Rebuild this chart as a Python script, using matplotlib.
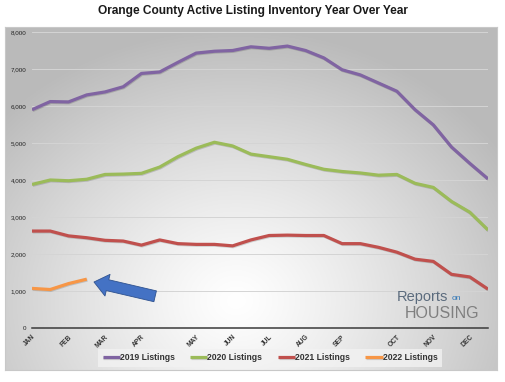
import numpy as np
import matplotlib.pyplot as plt
import matplotlib.patheffects as pe

plt.rcParams['font.family'] = ['Liberation Sans', 'DejaVu Sans']

# ---------- data (biweekly readings) ----------
months = ["JAN", "FEB", "MAR", "APR", "MAY", "JUN", "JUL", "AUG", "SEP", "OCT", "NOV", "DEC"]
month_pos = [0, 2, 4, 6, 9, 11, 13, 15, 17, 20, 22, 24]

y2019 = [5900, 6120, 6110, 6300, 6380, 6520, 6880, 6920, 7180, 7430, 7480, 7500, 7600,
         7560, 7620, 7500, 7300, 6980, 6840, 6620, 6400, 5900, 5490, 4890, 4450, 4030]
y2020 = [3880, 4000, 3980, 4020, 4150, 4160, 4180, 4350, 4630, 4860, 5020, 4920, 4700,
         4630, 4560, 4420, 4290, 4230, 4190, 4130, 4150, 3910, 3800, 3420, 3130, 2650]
y2021 = [2620, 2620, 2490, 2440, 2370, 2350, 2240, 2380, 2280, 2260, 2260, 2220, 2380,
         2500, 2510, 2500, 2500, 2280, 2280, 2180, 2050, 1860, 1800, 1450, 1380, 1050]
y2022 = [1070, 1040, 1200, 1320]

series = [("2019 Listings", y2019, "#8064A2"),
          ("2020 Listings", y2020, "#9BBB59"),
          ("2021 Listings", y2021, "#C0504D"),
          ("2022 Listings", y2022, "#F79646")]

W, H = 505, 382
fig = plt.figure(figsize=(W / 100, H / 100), dpi=100)
fig.patch.set_facecolor("white")

# ---------- gray gradient panel ----------
bg = fig.add_axes([5 / W, 1 - 370 / H, 492 / W, 343 / H])
gx, gy = np.meshgrid(np.linspace(0, 1, 300), np.linspace(0, 1, 240))
r = np.sqrt(((gx - 0.47) / 0.65) ** 2 + ((gy - 0.80) / 0.80) ** 2)
shade = 1.0 - 0.27 * np.clip(r, 0, 1) ** 1.2
bg.imshow(np.dstack([shade] * 3), aspect="auto", extent=[0, 1, 0, 1], origin="upper")
bg.set_xticks([]); bg.set_yticks([])
for s in bg.spines.values():
    s.set_color("#c8c8c8")
bg.patch.set_alpha(0)

fig.text(253 / W, 1 - 11 / H, "Orange County Active Listing Inventory Year Over Year",
         ha="center", va="center", fontsize=8.6, fontweight="bold", color="#1a1a1a")

# ---------- main axes ----------
ax = fig.add_axes([32 / W, 1 - 328 / H, 456 / W, 296 / H])
ax.patch.set_alpha(0)
shadow = [pe.SimpleLineShadow(offset=(0.5, -0.6), alpha=0.15), pe.Normal()]
for label, vals, col in series:
    ax.plot(range(len(vals)), vals, color=col, lw=2.3, label=label,
            solid_capstyle="butt", path_effects=shadow)

ax.set_xlim(0, 25)
ax.set_ylim(0, 8000)
ax.set_yticks(range(0, 8001, 1000))
ax.set_yticklabels([f"{v:,}" for v in range(0, 8001, 1000)], fontsize=4.5, color="#222222")
ax.set_xticks(month_pos)
ax.set_xticklabels(months, rotation=45, ha="right", rotation_mode="anchor",
                   fontsize=4.8, fontweight="bold", color="#333333")
ax.tick_params(length=0, pad=4)
ax.grid(axis="y", color="#d4d4d4", lw=0.7)
ax.set_axisbelow(True)
for side in ["top", "right", "left"]:
    ax.spines[side].set_visible(False)
ax.spines["bottom"].set_color("#3a3a3a")
ax.spines["bottom"].set_linewidth(1.1)

# ---------- arrow pointing at 2022 ----------
ax.annotate("", xy=(3.25, 1260), xytext=(6.9, 840),
            arrowprops=dict(arrowstyle="simple,head_length=1.0,head_width=1.6,tail_width=0.8",
                            fc="#4472C4", ec="#2F528F", lw=0.6))

# ---------- logo ----------
fig.text(397 / W, 1 - 297 / H, "Reports", fontsize=10.5, color="#5b6b7d",
         ha="left", va="center")
fig.text(452 / W, 1 - 299 / H, "on", fontsize=6, color="#2e75b6", ha="left", va="center")
fig.text(405 / W, 1 - 314 / H, "HOUSING", fontsize=11.5, color="#7f7f7f",
         ha="left", va="center")

# ---------- legend ----------
leg = fig.legend(loc="center", bbox_to_anchor=(270 / W, 1 - 358 / H), ncol=4,
                 fontsize=6.2, frameon=True, handlelength=2.0, handletextpad=0.0,
                 columnspacing=1.8, borderpad=0.5)
leg.get_frame().set_facecolor("#f2f2f2")
leg.get_frame().set_edgecolor("none")
leg.get_frame().set_boxstyle("square,pad=0")
for t in leg.get_texts():
    t.set_fontweight("bold")
    t.set_color("#333333")

fig.savefig("out.png", dpi=100)
